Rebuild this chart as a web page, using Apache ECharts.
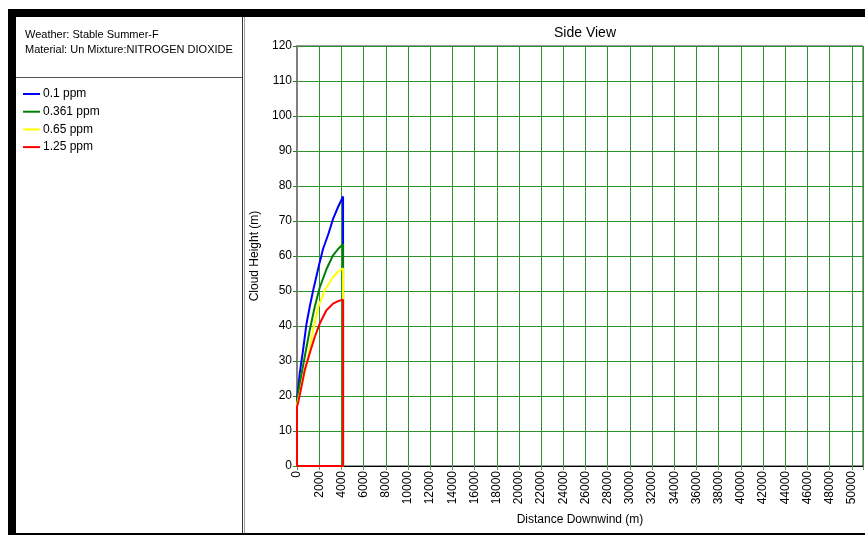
<!DOCTYPE html>
<html>
<head>
<meta charset="utf-8">
<script src="https://cdn.jsdelivr.net/npm/echarts@6/dist/echarts.min.js"></script>
<style>
  html, body { margin: 0; padding: 0; background: #fff; }
  #chart { width: 865px; height: 535px; }
</style>
</head>
<body>
<div id="chart"></div>
<script>
// cloud outlines (distance downwind m, cloud height m)
var seriesNames = ['0.1 ppm', '0.361 ppm', '0.65 ppm', '1.25 ppm'];
var seriesColors = ['#0000ff', '#008000', '#ffff00', '#ff0000'];

var blueDist   = [0, 0, 245, 540, 850, 1145, 1445, 1985, 2345, 2850, 3250, 3700, 4150, 4150, 0];
var blueHeight = [0, 19, 26.5, 33, 40.5, 45.5, 50, 57.4, 62, 66.5, 70.6, 74, 77, 0, 0];

var greenDist   = [0, 0, 245, 695, 1145, 1600, 2050, 2650, 3250, 3700, 4150, 4150, 0];
var greenHeight = [0, 18.5, 23.6, 31.2, 38.8, 45.5, 51, 56.2, 60.2, 62, 63.4, 0, 0];

var yellowDist   = [0, 0, 90, 540, 1000, 1445, 1900, 2500, 3250, 3700, 4150, 4150, 0];
var yellowHeight = [0, 17.5, 18.8, 24.5, 31.2, 38.8, 45.3, 50.2, 54, 55.5, 56.5, 0, 0];

var redDist   = [0, 0, 90, 400, 695, 1145, 1600, 2050, 2650, 3250, 3700, 4150, 4150, 0];
var redHeight = [0, 17, 17.9, 22.6, 27.4, 32.2, 36.9, 40.7, 44.5, 46.4, 47.1, 47.5, 0, 0];

var headerLines = ['Weather: Stable Summer-F', 'Material: Un Mixture:NITROGEN DIOXIDE'];

function pairs(xs, ys) {
    var out = [];
    for (var i = 0; i < xs.length; i++) out.push([xs[i], ys[i]]);
    return out;
}

var outlines = [
    pairs(blueDist, blueHeight),
    pairs(greenDist, greenHeight),
    pairs(yellowDist, yellowHeight),
    pairs(redDist, redHeight)
];

var FONT = 'Liberation Sans, Arial, sans-serif';
var gridGreen = '#2a932a';

var myChart = echarts.init(document.getElementById('chart'));

var series = [];
for (var i = 0; i < outlines.length; i++) {
    series.push({
        name: seriesNames[i],
        type: 'line',
        data: outlines[i],
        symbol: 'none',
        lineStyle: { color: seriesColors[i], width: 2 },
        itemStyle: { color: seriesColors[i] }
    });
}

var option = {
    animation: false,
    backgroundColor: '#fff',
    title: {
        text: 'Side View',
        left: 580,
        textAlign: 'center',
        top: 21,
        textStyle: { fontFamily: FONT, fontSize: 14, fontWeight: 'normal', color: '#000' }
    },
    legend: {
        orient: 'vertical',
        left: 23,
        top: 88,
        padding: 0,
        itemWidth: 17,
        itemHeight: 2,
        itemGap: 5.7,
        icon: 'rect',
        selectedMode: false,
        data: seriesNames,
        textStyle: { fontFamily: FONT, fontSize: 12, color: '#000', padding: [0, 0, 0, -2], lineHeight: 12 }
    },
    grid: {
        left: 297,
        top: 46,
        right: 2,
        bottom: 69,
        show: true,
        backgroundColor: '#fff',
        borderColor: '#333',
        borderWidth: 1
    },
    xAxis: {
        type: 'value',
        min: 0,
        max: 51000,
        interval: 2000,
        name: 'Distance Downwind (m)',
        nameLocation: 'middle',
        nameGap: 48,
        nameTextStyle: { fontFamily: FONT, fontSize: 12, color: '#000' },
        axisLine: { show: true, lineStyle: { color: '#000', width: 1 } },
        axisTick: { show: true, length: 4, lineStyle: { color: '#6a8f6a' } },
        axisLabel: {
            rotate: 90,
            margin: 5,
            fontFamily: FONT,
            fontSize: 12,
            color: '#000',
            formatter: function (v) { return v % 2000 === 0 && v <= 50000 ? String(v) : ''; }
        },
        splitLine: { show: true, lineStyle: { color: gridGreen, width: 1 } }
    },
    yAxis: {
        type: 'value',
        min: 0,
        max: 120,
        interval: 10,
        name: 'Cloud Height (m)',
        nameLocation: 'middle',
        nameGap: 31,
        nameTextStyle: { fontFamily: FONT, fontSize: 12, color: '#000' },
        axisLine: { show: true, lineStyle: { color: '#808080', width: 2 } },
        axisTick: { show: true, length: 4, lineStyle: { color: '#2a7a2a' } },
        axisLabel: { margin: 5, fontFamily: FONT, fontSize: 12, color: '#000' },
        splitLine: { show: true, lineStyle: { color: gridGreen, width: 1 } }
    },
    graphic: [
        // window frame
        { type: 'rect', left: 8, top: 9, shape: { width: 857, height: 8 }, style: { fill: '#000' }, z: 100 },
        { type: 'rect', left: 8, top: 9, shape: { width: 8, height: 526 }, style: { fill: '#000' }, z: 100 },
        { type: 'rect', left: 8, top: 533, shape: { width: 857, height: 2 }, style: { fill: '#000' }, z: 100 },
        // panel separators
        { type: 'rect', left: 242, top: 17, shape: { width: 1, height: 516 }, style: { fill: '#333' }, z: 100 },
        { type: 'rect', left: 244, top: 17, shape: { width: 1, height: 516 }, style: { fill: '#a0a0a0' }, z: 100 },
        { type: 'rect', left: 16, top: 77, shape: { width: 226, height: 1 }, style: { fill: '#555' }, z: 100 },
        // header info
        {
            type: 'text', left: 25, top: 27, z: 100,
            style: { text: headerLines.join('\n'), fontFamily: FONT, fontSize: 11, lineHeight: 15, fill: '#000' }
        }
    ],
    series: series
};

myChart.setOption(option);
</script>
</body>
</html>
